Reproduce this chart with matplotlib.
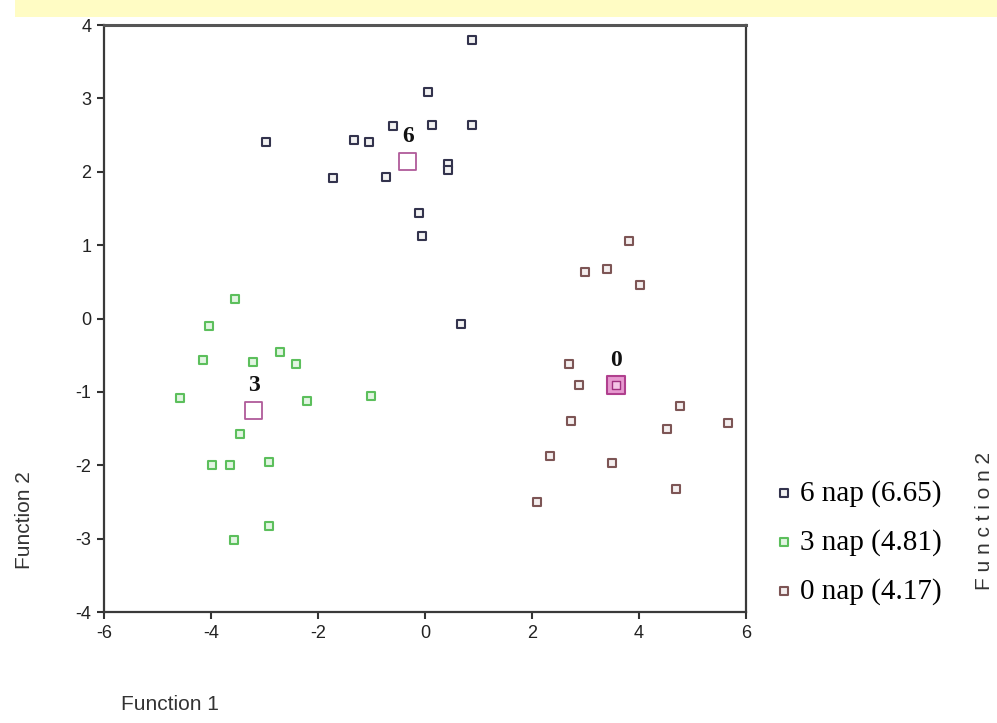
import numpy as np
import matplotlib.pyplot as plt
from matplotlib.patches import Rectangle

# discriminant scores
g6_x = [0.88, 0.06, -2.97, -1.33, -1.05, -0.60, 0.13, 0.88, -1.72, -0.73, 0.43, 0.43, -0.11, -0.06, 0.67]
g6_y = [3.79, 3.09, 2.40, 2.43, 2.40, 2.62, 2.64, 2.64, 1.92, 1.93, 2.10, 2.03, 1.44, 1.13, -0.08]

g3_x = [-3.55, -4.04, -4.14, -3.21, -2.71, -2.41, -4.57, -2.21, -1.00, -3.46, -3.98, -3.64, -2.91, -2.91, -3.57]
g3_y = [0.26, -0.10, -0.56, -0.59, -0.45, -0.62, -1.08, -1.13, -1.06, -1.57, -2.00, -2.00, -1.96, -2.83, -3.02]

g0_x = [3.82, 3.00, 3.40, 4.03, 2.70, 2.88, 4.77, 2.73, 4.52, 5.67, 2.34, 3.49, 4.69, 2.09]
g0_y = [1.06, 0.64, 0.68, 0.45, -0.62, -0.91, -1.19, -1.39, -1.51, -1.42, -1.87, -1.97, -2.33, -2.50]

centroid_lbl = ["6", "3", "0"]
centroid_x = [-0.32, -3.20, 3.57]
centroid_y = [2.14, -1.25, -0.91]

legend_lbl = ["6 nap (6.65)", "3 nap (4.81)", "0 nap (4.17)"]
xticks = [-6, -4, -2, 0, 2, 4, 6]
yticks = [-4, -3, -2, -1, 0, 1, 2, 3, 4]

plt.rcParams['axes.unicode_minus'] = False
sans = ['Liberation Sans Narrow', 'Liberation Sans', 'DejaVu Sans']
serif = ['Liberation Serif', 'DejaVu Serif']

fig = plt.figure(figsize=(9.97, 7.23), dpi=100)
fig.patch.set_facecolor('white')

# yellow strip along the top
fig.patches.append(Rectangle((0.015, 0.976), 0.985, 0.024, transform=fig.transFigure,
                             facecolor='#fffcc4', edgecolor='none', zorder=0))

ax = fig.add_axes([0.1043, 0.1535, 0.6437, 0.8119])

# colours for the three groups
cols = {'6': ('#33334d', '#f2f2f2'), '3': ('#5cbf5c', '#e2f5e2'), '0': ('#7d5555', '#f4eeee')}

h6 = ax.scatter(g6_x, g6_y, marker='s', s=40, facecolor=cols['6'][1], edgecolor=cols['6'][0], linewidth=1.5, zorder=3)
h3 = ax.scatter(g3_x, g3_y, marker='s', s=40, facecolor=cols['3'][1], edgecolor=cols['3'][0], linewidth=1.5, zorder=3)
h0 = ax.scatter(g0_x, g0_y, marker='s', s=40, facecolor=cols['0'][1], edgecolor=cols['0'][0], linewidth=1.5, zorder=3)

# group centroids
ax.scatter(centroid_x[:2], centroid_y[:2], marker='s', s=150, facecolor='none',
           edgecolor='#b05a9a', linewidth=1.3, zorder=4)
ax.scatter(centroid_x[2:], centroid_y[2:], marker='s', s=150, facecolor='#e79ad0',
           edgecolor='#b0408e', linewidth=1.5, zorder=4)
ax.scatter(centroid_x[2:], centroid_y[2:], marker='s', s=40, facecolor='#f4c4e6',
           edgecolor='#a03080', linewidth=1.0, zorder=5)
for lbl, cx, cy in zip(centroid_lbl, centroid_x, centroid_y):
    ax.annotate(lbl, (cx, cy), xytext=(0, 18), textcoords='offset points', ha='center', va='center',
                fontsize=17, fontweight='bold', family=serif, color='#111111')

ax.set_xlim(-6, 6)
ax.set_ylim(-4, 4)
ax.set_xticks(xticks)
ax.set_yticks(yticks)
ax.tick_params(direction='out', length=5, width=1.5, color='#333333', labelsize=13, pad=4)
for t in ax.get_xticklabels() + ax.get_yticklabels():
    t.set_family(sans)
    t.set_color('#222222')
for sp in ax.spines.values():
    sp.set_linewidth(1.6)
    sp.set_color('#3a3a3a')
ax.spines['top'].set_linewidth(2.2)
ax.spines['top'].set_color('#555555')

leg = fig.legend([h6, h3, h0], legend_lbl, loc='upper left', bbox_to_anchor=(0.748, 0.372),
                 frameon=False, prop={'family': serif, 'size': 21}, handletextpad=0.15,
                 handlelength=0.8, labelspacing=0.75, markerscale=0.8)

fig.text(0.025, 0.28, 'Function 2', rotation=90, ha='center', va='center', fontsize=15, family=sans, color='#333333')
fig.text(0.987, 0.28, 'F u n c t i o n 2', rotation=90, ha='center', va='center', fontsize=15, family=sans, color='#333333')
fig.text(0.121, 0.025, 'Function 1', ha='left', va='center', fontsize=15, family=sans, color='#333333')

fig.savefig('out.png', dpi=100)
